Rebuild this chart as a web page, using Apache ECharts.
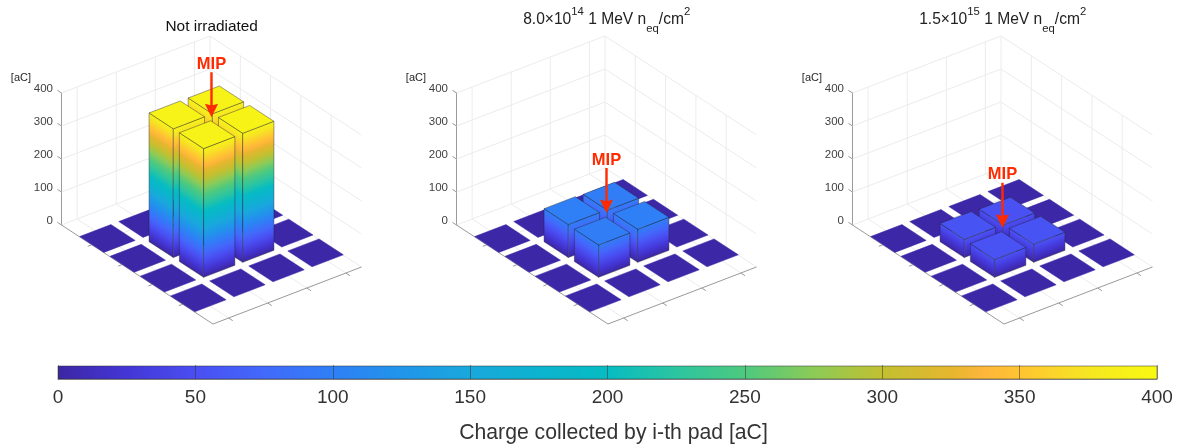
<!DOCTYPE html>
<html><head><meta charset="utf-8">
<style>html,body{margin:0;padding:0;background:#fff}#c{width:1183px;height:445px}</style>
<script src="https://cdn.jsdelivr.net/npm/echarts@6/dist/echarts.min.js"></script>
</head><body><div id="c"></div>
<script>
// ---- data (aC per pad, rows = x tick 1..4, cols = y tick 1..4)
const padsNotIrradiated = [[1,1,1,1],[1,390,390,1],[1,390,391,1],[1,1,1,1]];
const pads8e14 = [[1,1,1,1],[1,100,98,1],[1,98,100,1],[1,1,1,1]];
const pads15e15 = [[1,1,1,1],[1,55,53,1],[1,54,55,1],[1,1,1,1]];
const mipCharge = [390, 100, 55];
const xTicks = [1,2,3,4];
const yTicks = [1,2,3,4];
const zTicks = [0,100,200,300,400];
const colorbarRange = [0,400];
const colormapValues = [0,25,50,75,100,125,150,175,200,225,250,275,300,325,337,350,375,400];
const colormapColors = ['#3c26a4','#4436d6','#4a4ef2','#4269fb','#2f7ff6','#2095ea','#19a8dc','#0cb3cf','#06bcc2','#2cc5a0','#4ec97f','#8ccb57','#c2c030','#e6b62e','#fdb63a','#ffc432','#f6e622','#f8fa10'];

// ---- axes and view
const xLim = [0,5], yLim = [0.6,4.4], barWX = 0.8, barWY = 0.8;
const zMax = 400, zPx = 132;
const U = [151.5,99], V = [148.5,57];
const panelLeft = [61,456,852], panelTitleX = [211.7,606.7,1002.7];
const panels = [padsNotIrradiated,pads8e14,pads15e15];
const titles = ['Not irradiated','{m|8.0×10}{s|14}{m| 1 MeV n}{b|eq}{m|/cm}{s|2}','{m|1.5×10}{s|15}{m| 1 MeV n}{b|eq}{m|/cm}{s|2}'];
const FONT = '"Liberation Sans",Arial,sans-serif';
const k = zMax/zPx;
const nx = x => (x-xLim[0])/(xLim[1]-xLim[0]);
const ny = y => (y-yLim[0])/(yLim[1]-yLim[0]);
function proj(api,xn,yn,z){
  return api.coord([0.5+xn*U[0]+yn*V[0], z+(-xn*U[1]+yn*V[1])*k]);
}
function colorAt(q){
  const vs=colormapValues, cs=colormapColors;
  let i=0; while(i<vs.length-2 && q>vs[i+1]) i++;
  const t=Math.max(0,Math.min(1,(q-vs[i])/(vs[i+1]-vs[i])));
  const h=c=>[1,3,5].map(p=>parseInt(c.substr(p,2),16));
  const a=h(cs[i]),b=h(cs[i+1]);
  return 'rgb('+a.map((v,j)=>Math.round(v+(b[j]-v)*t)).join(',')+')';
}
function stopsTo(q){
  const out=[{offset:0,color:colorAt(0)}];
  colormapValues.forEach(v=>{ if(v>0&&v<q) out.push({offset:v/q,color:colorAt(v)}); });
  out.push({offset:1,color:colorAt(q)});
  return out;
}
function line(p,q,color,w){
  return {type:'line',shape:{x1:p[0],y1:p[1],x2:q[0],y2:q[1]},style:{stroke:color,lineWidth:w||1}};
}
function renderFrame(params,api){
  const G='#ececec', A='#9a9a9a', kids=[];
  const P=(a,b,c)=>proj(api,a,b,c);
  zTicks.forEach(z=>{
    kids.push(line(P(0,0,z),P(0,1,z),G));
    kids.push(line(P(0,1,z),P(1,1,z),G));
  });
  kids.push(line(P(0,1,0),P(0,1,zMax),G));
  xTicks.forEach(t=>{ const n=nx(t);
    kids.push(line(P(n,1,0),P(n,1,zMax),G));
    kids.push(line(P(n,0,0),P(n,1,0),G));
    kids.push(line(P(n,0,0),P(n,-0.027,0),A));
  });
  yTicks.forEach(t=>{ const n=ny(t);
    kids.push(line(P(0,n,0),P(0,n,zMax),G));
    kids.push(line(P(0,n,0),P(1,n,0),G));
    kids.push(line(P(1,n,0),P(1.027,n,0),A));
  });
  zTicks.forEach(z=>kids.push(line(P(0,0,z),P(-0.027,0,z),A)));
  kids.push(line(P(0,0,0),P(1,0,0),A));
  kids.push(line(P(1,0,0),P(1,1,0),A));
  return {type:'group',children:kids};
}
function sideGradient(base,edge,h,q){
  // colour follows height: gradient runs perpendicular to the face's horizontal edge
  const ex=edge[0]-base[0], ey=edge[1]-base[1], L=Math.hypot(ex,ey);
  let nxv=-ey/L, nyv=ex/L; if(nyv>0){nxv=-nxv;nyv=-nyv;}
  const d=-h*nyv;
  return new echarts.graphic.LinearGradient(base[0],base[1],base[0]+nxv*d,base[1]+nyv*d,stopsTo(q),true);
}
function renderBar(params,api){
  const x=api.value(0), y=api.value(1), q=api.value(2);
  const x0=nx(x-barWX/2), x1=nx(x+barWX/2), y0=ny(y-barWY/2), y1=ny(y+barWY/2);
  const P=(a,b,c)=>proj(api,a,b,c);
  const stroke='rgba(35,35,45,0.6)';
  const topPts=[P(x0,y0,q),P(x1,y0,q),P(x1,y1,q),P(x0,y1,q)];
  if(q<5){
    return {type:'polygon',shape:{points:topPts},style:{fill:colorAt(q),stroke:colorAt(q),lineWidth:0.5}};
  }
  const bA=P(x0,y0,0), bB=P(x1,y0,0), bC=P(x1,y1,0);
  const h=bB[1]-P(x1,y0,q)[1];
  return {type:'group',children:[
    {type:'polygon',shape:{points:[bA,bB,P(x1,y0,q),P(x0,y0,q)]},style:{fill:sideGradient(bB,bA,h,q),stroke:stroke,lineWidth:0.7}},
    {type:'polygon',shape:{points:[bB,bC,P(x1,y1,q),P(x1,y0,q)]},style:{fill:sideGradient(bB,bC,h,q),stroke:stroke,lineWidth:0.7}},
    {type:'polygon',shape:{points:topPts},style:{fill:colorAt(q),stroke:stroke,lineWidth:0.7}}
  ]};
}
function renderMip(params,api){
  const tip=proj(api,0.5,0.5,api.value(0));
  const red='#ff2a00', x=tip[0], y=tip[1];
  return {type:'group',children:[
    {type:'polygon',shape:{points:[[x-1.2,y-45],[x+1.2,y-45],[x+1.2,y-12],[x+6.6,y-13.5],[x,y],[x-6.6,y-13.5],[x-1.2,y-12]]},style:{fill:red}},
    {type:'text',style:{x:x,y:y-53,text:'MIP',fill:red,font:'bold 16.5px '+FONT,align:'center',verticalAlign:'middle'}}
  ]};
}
const option={animation:false,backgroundColor:'#fff',grid:[],xAxis:[],yAxis:[],series:[],title:[]};
panels.forEach((m,i)=>{
  option.grid.push({left:panelLeft[i],top:93,width:300,height:zPx});
  option.xAxis.push({type:'value',gridIndex:i,min:0,max:300,show:false});
  option.yAxis.push({type:'value',gridIndex:i,min:0,max:zMax,interval:100,position:'left',
    name:'[aC]',nameLocation:'end',nameGap:10,
    nameTextStyle:{color:'#262626',fontFamily:FONT,fontSize:11,align:'right',padding:[0,30,0,0]},
    axisLine:{show:true,onZero:false,lineStyle:{color:'#9a9a9a',width:1}},axisTick:{show:false},splitLine:{show:false},
    axisLabel:{color:'#404040',fontFamily:FONT,fontSize:11.5,margin:8,verticalAlign:'bottom',lineHeight:8}});
  const cells=[];
  xTicks.forEach((x,a)=>yTicks.forEach((y,b)=>cells.push([x,y,m[a][b]])));
  cells.sort((p,q)=>(p[0]-p[1])-(q[0]-q[1]));
  option.series.push({type:'custom',xAxisIndex:i,yAxisIndex:i,silent:true,clip:false,z:1,renderItem:renderFrame,data:[[0]],encode:{x:[],y:[]}});
  option.series.push({type:'custom',name:'pads '+(i+1),xAxisIndex:i,yAxisIndex:i,silent:true,clip:false,z:2,renderItem:renderBar,data:cells,encode:{x:[],y:[]}});
  option.series.push({type:'custom',xAxisIndex:i,yAxisIndex:i,silent:true,clip:false,z:3,renderItem:renderMip,data:[[mipCharge[i]]],encode:{x:[],y:[]}});
  option.title.push({text:titles[i],left:panelTitleX[i],top:i===0?13:6,padding:[0,0,0,0],textAlign:'center',
    textStyle:{color:'#111',fontFamily:FONT,fontSize:15.4,fontWeight:'normal',lineHeight:28,
      rich:{m:{fontSize:15.6,fontFamily:FONT,color:'#222',lineHeight:28,verticalAlign:'middle'},
            s:{fontSize:11.3,fontFamily:FONT,color:'#222',lineHeight:15,verticalAlign:'top'},
            b:{fontSize:11.3,fontFamily:FONT,color:'#222',lineHeight:11,verticalAlign:'bottom'}}}});
});
// colour bar
option.grid.push({left:58,top:366,width:1099,height:14});
option.xAxis.push({type:'value',gridIndex:3,min:colorbarRange[0],max:colorbarRange[1],interval:50,position:'bottom',z:5,
  name:'Charge collected by i-th pad [aC]',nameLocation:'middle',nameGap:44,
  nameTextStyle:{color:'#333',fontFamily:FONT,fontSize:21.2,padding:[0,0,0,12]},
  axisLine:{show:true,lineStyle:{color:'rgba(50,50,50,0.5)'}},
  axisTick:{show:true,inside:true,length:14,lineStyle:{color:'rgba(50,50,50,0.5)'}},
  splitLine:{show:false},
  axisLabel:{color:'#333',fontFamily:FONT,fontSize:19,margin:9}});
option.yAxis.push({type:'value',gridIndex:3,min:0,max:1,show:false});
option.series.push({type:'custom',xAxisIndex:3,yAxisIndex:3,silent:true,z:2,data:[colorbarRange],encode:{x:[0,1],y:[]},
  renderItem(params,api){
    const a=api.coord([api.value(0),0]), b=api.coord([api.value(1),1]);
    return {type:'rect',shape:{x:a[0],y:b[1],width:b[0]-a[0],height:a[1]-b[1]},
      style:{fill:new echarts.graphic.LinearGradient(0,0,1,0,stopsTo(api.value(1))),stroke:'rgba(50,50,50,0.5)',lineWidth:1}};
  }});
echarts.init(document.getElementById('c'),null,{renderer:'canvas'}).setOption(option);
</script></body></html>
